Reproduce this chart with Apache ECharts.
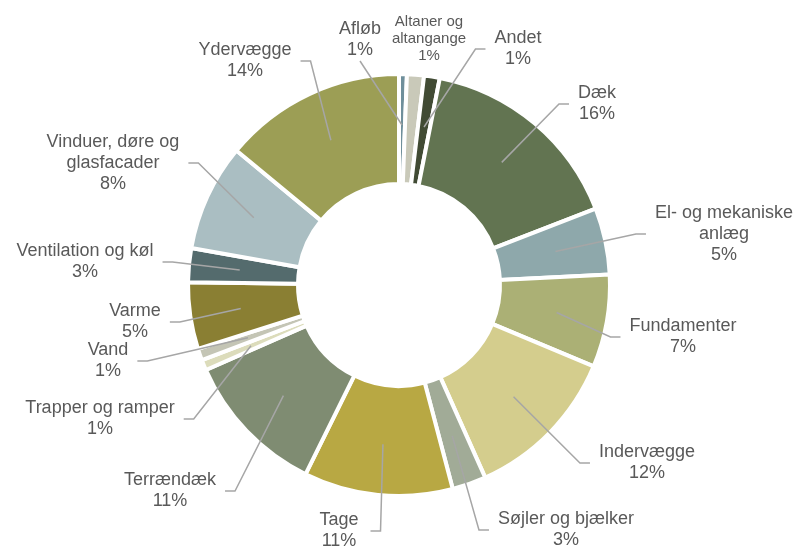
<!DOCTYPE html>
<html>
<head>
<meta charset="utf-8">
<script src="https://cdn.jsdelivr.net/npm/echarts@6/dist/echarts.min.js"></script>
<style>
  html, body { margin: 0; padding: 0; background: #fff; }
  #chart { width: 798px; height: 551px; }
</style>
</head>
<body>
<div id="chart"></div>
<script>
// andel pr. bygningsdel (%)
var categories = ['Afløb', 'Altaner og\naltangange', 'Andet', 'Dæk', 'El- og mekaniske\nanlæg',
  'Fundamenter', 'Indervægge', 'Søjler og bjælker', 'Tage', 'Terrændæk', 'Trapper og ramper',
  'Vand', 'Varme', 'Ventilation og køl', 'Vinduer, døre og\nglasfacader', 'Ydervægge'];
var shares = [0.6, 1.3, 1.2, 16.0, 5.1, 7.1, 12.0, 2.6, 11.4, 11.1, 0.8, 0.9, 5.1, 2.6, 8.2, 14.0];
var colors = ['#6f8f9b', '#c9c9b9', '#414b34', '#627451', '#8ea8ab', '#abb075', '#d4cd8d', '#a1ab97',
  '#b8a843', '#7f8c72', '#dcdcbb', '#c4c5b5', '#8a7f33', '#546b6d', '#aabec2', '#9c9e55'];

// label placement (text block centres)
var labelPos = [[360, 40], [429, 39], [518, 49], [597, 104], [724, 234], [683, 337], [647, 463],
  [566, 530], [315, 531], [170, 491], [100, 419], [108, 361], [135, 322], [85, 262], [113, 163], [245, 61]];

var chart = echarts.init(document.getElementById('chart'), null, { renderer: 'canvas' });
var center = [399, 285];

var ringData = categories.map(function (c, i) {
  return { name: c, value: shares[i], itemStyle: { color: colors[i] } };
});
var labelData = categories.map(function (c, i) {
  var d = { name: c, value: shares[i] };
  if (i === 0) {
    d.labelLine = { length2: 0 };
  }
  if (i === 1) {
    d.labelLine = { show: false };
    d.label = { fontSize: 15, lineHeight: 17 };
  }
  if (i === 8) {
    // ekstra venstre-padding så linjen går til højre side af teksten
    d.label = { padding: [0, 12, 0, 60] };
  }
  return d;
});

var option = {
  animation: false,
  series: [
    {
      type: 'pie',
      center: center,
      radius: [101, 211],
      startAngle: 90,
      clockwise: true,
      silent: true,
      label: { show: false },
      labelLine: { show: false },
      itemStyle: { borderColor: '#fff', borderWidth: 4 },
      data: ringData
    },
    {
      // usynlig hjælpeserie: label-linjer starter midt i ringen
      type: 'pie',
      center: center,
      radius: [0, 160],
      startAngle: 90,
      clockwise: true,
      silent: true,
      z: 5,
      avoidLabelOverlap: false,
      itemStyle: { color: 'rgba(0,0,0,0)' },
      label: {
        show: true,
        position: 'outside',
        color: '#595959',
        fontFamily: 'Liberation Sans, Arial, sans-serif',
        fontSize: 18,
        lineHeight: 21,
        align: 'center',
        padding: [0, 9],
        backgroundColor: 'rgba(0,0,0,0)',
        formatter: function (p) {
          return p.name + '\n' + Math.round(p.value) + '%';
        }
      },
      labelLine: {
        show: true,
        length: 10,
        length2: 10,
        minTurnAngle: 0,
        lineStyle: { color: '#a6a6a6', width: 1.5 }
      },
      labelLayout: function (params) {
        var p = labelPos[params.dataIndex];
        return { x: p[0], y: p[1], align: 'center', verticalAlign: 'middle' };
      },
      data: labelData
    }
  ]
};

chart.setOption(option);
</script>
</body>
</html>
